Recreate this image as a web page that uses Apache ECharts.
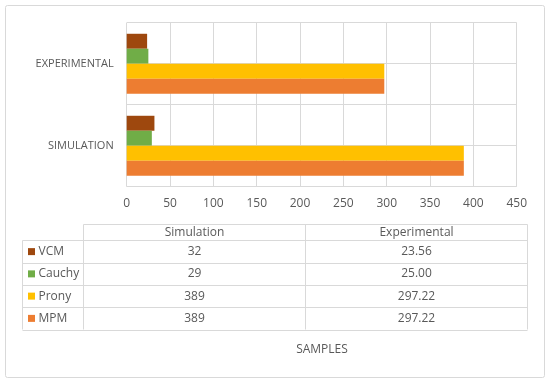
<!DOCTYPE html>
<html>
<head>
<meta charset="utf-8">
<script src="https://cdn.jsdelivr.net/npm/echarts@6/dist/echarts.min.js"></script>
<style>html,body{margin:0;padding:0;background:#fff}#c{width:550px;height:382px}</style>
</head>
<body>
<div id="c"></div>
<script>
// ---- data ----
var categories = ['Simulation', 'Experimental'];
var seriesNames = ['VCM', 'Cauchy', 'Prony', 'MPM'];
var vcm = [32, 23.56];
var cauchy = [29, 25.00];
var prony = [389, 297.22];
var mpm = [389, 297.22];
var xTicks = [0, 50, 100, 150, 200, 250, 300, 350, 400, 450];
var axisTitle = 'SAMPLES';

var colors = {VCM: '#9E480E', Cauchy: '#70AD47', Prony: '#FFC000', MPM: '#ED7D31'};
var values = {VCM: vcm, Cauchy: cauchy, Prony: prony, MPM: mpm};

var chart = echarts.init(document.getElementById('c'));
var FONT = '"Open Sans", sans-serif';
var TXT = '#595959';
var LINE = '#d9d9d9';

// ECharts stacks horizontal bars top-to-bottom in series order
var series = seriesNames.map(function (n) {
  return {
    name: n, type: 'bar', data: values[n], yAxisIndex: 0,
    itemStyle: {color: colors[n]},
    barGap: '0%', barCategoryGap: '27%', silent: true
  };
});

// table graphics
var g = [];
g.push({type: 'rect', shape: {x: 5.5, y: 5.5, width: 539, height: 372, r: 2}, style: {fill: 'none', stroke: LINE, lineWidth: 1}});
var tL = 22.5, tK = 83.5, tM = 305.5, tR = 527.5, tTop = 224.5, hdrB = 240.5, rowH = 22.25;
function hl(x1, x2, y) { g.push({type: 'line', shape: {x1: x1, y1: y, x2: x2, y2: y}, style: {stroke: LINE, lineWidth: 1}}); }
function vl(x, y1, y2) { g.push({type: 'line', shape: {x1: x, y1: y1, x2: x, y2: y2}, style: {stroke: LINE, lineWidth: 1}}); }
var tBot = hdrB + rowH * seriesNames.length;
hl(tK, tR, tTop);
hl(tL, tR, hdrB);
for (var i = 1; i <= seriesNames.length; i++) hl(tL, tR, Math.round(hdrB + rowH * i) + 0.5);
vl(tL, hdrB, tBot); vl(tK, tTop, tBot); vl(tM, tTop, tBot); vl(tR, tTop, tBot);
var colC = [(tK + tM) / 2, (tM + tR) / 2];
categories.forEach(function (c, j) {
  g.push({type: 'text', style: {text: c, x: colC[j], y: (tTop + hdrB) / 2, textAlign: 'center', textVerticalAlign: 'middle', font: '12px ' + FONT, fill: TXT}});
});
seriesNames.forEach(function (n, i) {
  var cy = hdrB + rowH * i + rowH / 2;
  g.push({type: 'rect', shape: {x: 28, y: cy - 3.5, width: 7, height: 7}, style: {fill: colors[n]}});
  g.push({type: 'text', style: {text: n, x: 38.5, y: cy, textAlign: 'left', textVerticalAlign: 'middle', font: '12px ' + FONT, fill: TXT}});
  var v = values[n];
  var strs = [String(v[0]), v[1].toFixed(2)];
  strs.forEach(function (s, j) {
    g.push({type: 'text', style: {text: s, x: colC[j], y: cy, textAlign: 'center', textVerticalAlign: 'middle', font: '12px ' + FONT, fill: TXT}});
  });
});
g.push({type: 'text', style: {text: axisTitle, x: 322, y: 350, textAlign: 'center', textVerticalAlign: 'middle', font: '12px ' + FONT, fill: TXT}});

chart.setOption({
  animation: false,
  backgroundColor: '#fff',
  grid: {left: 126.7, right: 33.3, top: 22.7, bottom: 195.3},
  xAxis: {
    type: 'value', min: xTicks[0], max: xTicks[xTicks.length - 1], interval: xTicks[1] - xTicks[0],
    axisLine: {show: false}, axisTick: {show: false},
    splitLine: {show: true, lineStyle: {color: LINE, width: 1}},
    axisLabel: {color: TXT, fontFamily: FONT, fontSize: 12, margin: 11}
  },
  yAxis: [{
    type: 'category', data: categories,
    axisLine: {show: false}, axisTick: {show: false}, splitLine: {show: false},
    axisLabel: {color: TXT, fontFamily: FONT, fontSize: 11, margin: 13,
      formatter: function (v) { return v.toUpperCase(); }}
  }, {
    type: 'category', data: ['a', 'b', 'c', 'd'], position: 'left',
    axisLine: {show: false}, axisTick: {show: false}, axisLabel: {show: false},
    splitLine: {show: true, interval: 0, lineStyle: {color: LINE, width: 1}}
  }],
  series: series,
  graphic: g
});
</script>
</body>
</html>
